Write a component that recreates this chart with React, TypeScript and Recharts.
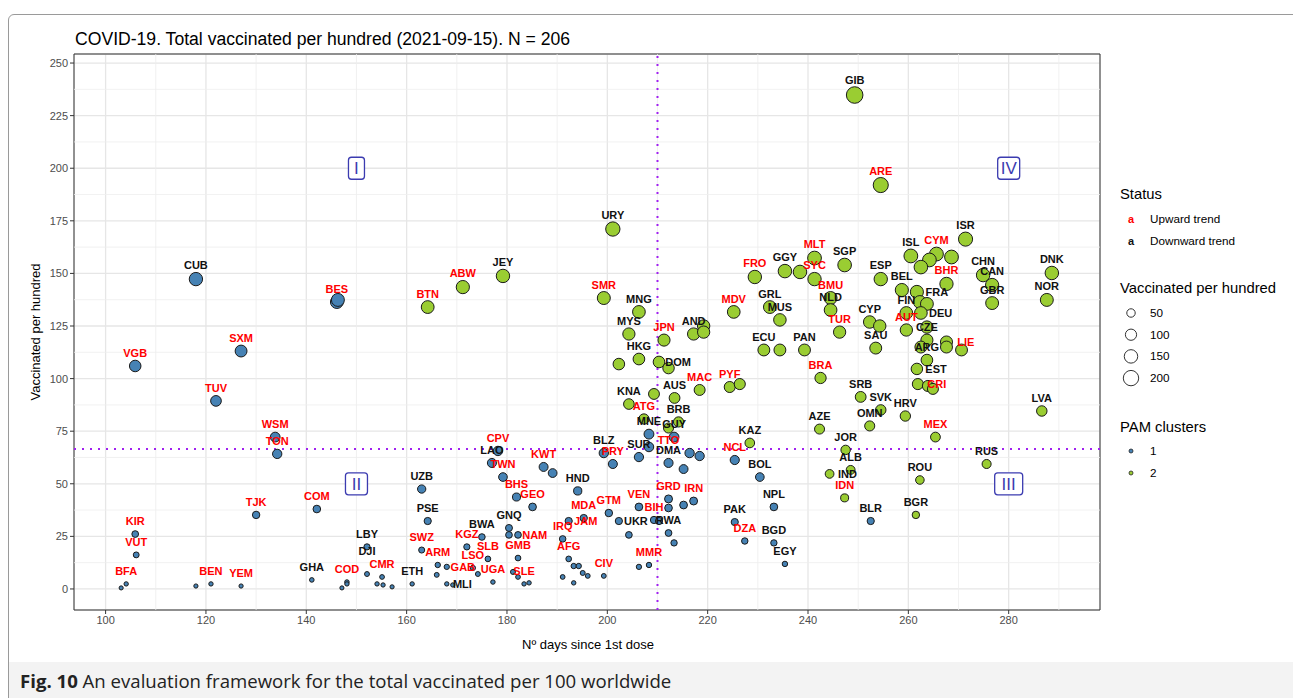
import React from 'react';
import {
  ScatterChart,
  Scatter,
  XAxis,
  YAxis,
  ZAxis,
  CartesianGrid,
  ReferenceLine,
  ReferenceDot,
  ReferenceArea,
} from 'recharts';

// ---------- data: PAM cluster 1 ----------
const c1Codes = ['CUB','BES','','VGB','SXM','TUV','WSM','TON','TJK','COM','KIR','VUT','BFA','','','BEN','YEM','GHA','COD','','','DJI','CMR','','','','LBY','UZB','PSE','SWZ','ARM','GAB','','ETH','MLI','','KGZ','BWA','LSO','','SLB','UGA','GNQ','','NAM','GMB','','','SLE','','CPV','LAO','TWN','BHS','GEO','KWT','','HND','MDA','JAM','IRQ','AFG','','','','','CIV','','','BLZ','PRY','SUR','MNE','','GUY','DMA','','','','NCL','BOL','GRD','','IRN','','VEN','BIH','','GTM','UKR','','RWA','','PAK','DZA','NPL','BGD','EGY','MMR','','BLR'];
const c1Days = [118.0,146.1,146.3,105.9,127.0,122.0,133.8,134.2,130.0,142.1,105.9,106.1,104.1,103.1,118.0,121.0,127.0,141.1,148.1,148.1,147.1,152.1,155.1,154.1,155.3,157.1,152.1,163.0,164.2,163.0,166.2,168.0,166.0,161.1,168.0,169.2,172.0,175.0,173.2,174.2,176.2,177.2,180.4,180.4,182.2,182.2,181.2,182.2,183.4,184.4,178.2,177.0,179.2,181.9,185.1,187.3,189.1,194.1,195.3,192.3,191.1,192.3,193.3,194.3,191.1,193.3,199.3,195.1,196.1,199.3,201.1,206.3,208.3,208.3,213.3,212.2,215.2,216.4,218.4,225.4,230.4,212.2,212.2,217.2,215.2,206.3,209.3,210.3,200.3,202.3,204.3,212.2,213.3,225.4,227.4,233.2,233.2,235.4,208.3,206.3,252.5];
const c1Vacc = [147.3,136.4,137.4,106.0,113.1,89.4,72.2,64.2,35.2,38.0,26.1,16.2,2.4,0.5,1.4,2.4,1.4,4.3,3.3,2.4,0.5,7.1,5.7,2.4,1.9,1.0,20.0,47.5,32.3,18.5,11.4,10.5,6.7,2.4,2.4,1.9,20.0,24.7,10.0,7.1,14.3,3.3,29.0,25.7,25.7,14.7,8.1,5.7,2.4,2.9,65.6,59.9,53.2,43.7,39.0,58.0,55.1,46.6,33.7,32.3,23.8,14.3,10.9,10.9,5.7,2.9,6.2,7.6,6.2,64.6,59.4,62.7,73.6,67.5,72.2,59.9,57.0,64.6,63.2,61.3,53.2,42.8,38.5,41.8,39.9,39.0,32.8,32.3,36.1,32.3,25.7,26.6,21.9,31.8,22.8,39.0,21.9,11.9,11.4,10.5,32.3];
const c1Up = [0,1,1,1,1,1,1,1,1,1,1,1,1,1,1,1,1,0,1,1,1,0,1,1,1,1,0,0,0,1,1,1,1,0,0,0,1,0,1,1,1,1,0,0,1,1,1,1,1,1,1,0,1,1,1,1,1,0,1,1,1,1,1,1,1,1,1,1,1,0,1,0,0,0,0,0,0,0,0,1,0,1,1,1,1,1,1,1,1,0,0,0,0,0,1,0,0,0,1,1,0];

// ---------- data: PAM cluster 2 ----------
const c2Codes = ['GIB','ARE','URY','ISR','BTN','ABW','JEY','SMR','MNG','MYS','JPN','AND','','','HKG','','DOM','','MAC','PYF','','AUS','','KNA','ATG','BRB','TTO','KAZ','MDV','GRL','MUS','ECU','','PAN','BRA','AZE','FRO','GGY','','MLT','SYC','SGP','BMU','NLD','TUR','ESP','CYP','','SAU','ISL','CYM','','','','BHR','BEL','FRA','','','FIN','DEU','AUT','','CZE','','LIE','','','ARG','EST','CRI','','','SRB','SVK','OMN','HRV','MEX','LVA','RUS','ROU','BGR','JOR','ALB','IND','IDN','CHN','CAN','GBR','DNK','NOR'];
const c2Days = [249.3,254.5,201.1,271.4,164.2,171.2,179.2,199.3,206.3,204.3,211.3,217.2,219.2,219.2,206.3,202.3,210.3,212.2,218.4,224.4,226.4,213.4,209.3,204.3,207.3,214.2,212.2,228.4,225.2,232.4,234.4,231.2,234.4,239.3,242.5,242.3,229.4,235.4,238.4,241.3,241.3,247.3,244.5,244.5,246.3,254.5,252.3,254.3,253.5,260.5,265.6,264.2,262.5,268.6,267.6,258.7,261.7,262.3,263.7,259.6,262.5,259.6,263.7,263.7,262.5,267.6,267.6,270.6,263.7,261.7,261.9,263.9,264.9,250.5,254.5,252.3,259.4,265.4,286.6,275.6,262.3,261.5,247.5,248.5,244.3,247.3,274.9,276.7,276.7,288.6,287.6];
const c2Vacc = [234.8,192.0,171.1,166.3,134.0,143.5,148.8,138.3,131.7,121.2,118.3,121.2,125.0,122.1,109.3,106.9,107.9,105.0,94.6,96.0,97.4,90.8,92.7,87.9,80.8,79.4,76.5,69.4,131.7,134.0,127.9,113.6,113.6,113.6,100.3,76.0,148.3,151.1,150.7,157.3,147.3,154.0,138.3,132.6,122.1,147.3,126.9,125.0,114.5,158.3,159.2,156.4,153.0,157.8,145.0,142.1,141.2,136.4,135.5,131.2,131.2,123.1,124.5,118.3,115.0,117.4,115.0,113.6,108.8,104.6,97.4,96.5,95.1,91.3,85.1,77.5,82.2,72.2,84.6,59.4,51.8,35.2,66.1,56.6,54.7,43.3,149.2,144.5,135.9,150.2,137.4];
const c2Up = [0,1,0,0,1,1,0,1,0,0,1,0,0,0,0,0,0,0,1,1,1,0,0,0,1,0,1,0,1,0,0,0,0,0,1,0,1,0,0,1,1,0,1,0,1,0,0,0,0,0,1,1,1,1,1,0,0,0,0,0,0,1,1,0,0,1,1,1,0,0,1,1,1,0,0,0,0,1,0,0,0,0,0,0,0,1,0,0,0,0,0];

// ---------- axes ----------
const xTicks = [100, 120, 140, 160, 180, 200, 220, 240, 260, 280];
const yTicks = [0, 25, 50, 75, 100, 125, 150, 175, 200, 225, 250];
const xMinor = [110, 130, 150, 170, 190, 210, 230, 250, 270, 290];
const yMinor = [12.5, 37.5, 62.5, 87.5, 112.5, 137.5, 162.5, 187.5, 212.5, 237.5];
const xDomain = [93.7, 298.2];
const yDomain = [-10, 254.3];
const hLineY = 66.5;
const vLineX = 210;

// quadrant tags
const quadLabels = ['I', 'II', 'III', 'IV'];
const quadX = [150, 150, 280, 280];
const quadY = [200, 50, 50, 200];

// legend
const legendSizes = [50, 100, 150, 200];

const BLUE = '#4682B4';
const GREEN = '#9ACD32';
const FONT = '"Liberation Sans", Arial, Helvetica, sans-serif';

const build = (codes: string[], days: number[], vals: number[], up: number[]) =>
  codes.map((code, i) => ({ code, x: days[i], y: vals[i], up: up[i] }));

const cluster1 = build(c1Codes, c1Days, c1Vacc, c1Up);
const cluster2 = build(c2Codes, c2Days, c2Vacc, c2Up);
const allPoints = [...cluster1, ...cluster2];
const labelled = allPoints.filter((p) => p.code);

const Dot = (props: any) => {
  const { cx, cy, size, fill } = props;
  if (cx == null || cy == null) return null;
  const r = Math.sqrt((size ?? 60) / Math.PI);
  return <circle cx={cx} cy={cy} r={r} fill={fill} stroke="#1a1a1a" strokeWidth={1} />;
};

// simple greedy label repel (like ggrepel): first free spot around the point
type Box = { x1: number; y1: number; x2: number; y2: number };
const placed: Box[] = [];
const hits = (b: Box) => placed.some((p) => b.x1 < p.x2 && b.x2 > p.x1 && b.y1 < p.y2 && b.y2 > p.y1);

const Label = (props: any) => {
  const { cx, cy, payload, size, index } = props;
  if (index === 0 || (payload && payload.code === labelled[0].code && payload.x === labelled[0].x)) placed.length = 0;
  if (cx == null || cy == null || !payload || !payload.code) return null;
  const r = Math.sqrt((size ?? 60) / Math.PI);
  const up = Math.max(r + 3, 9);
  const w = payload.code.length * 7.6;
  const h = 9;
  const cands: [number, number][] = [
    [0, -up],
    [0, -up - 10],
    [w / 2 + r + 2, 4],
    [-(w / 2 + r + 2), 4],
    [0, r + 11],
    [w / 2 + r, -up + 1],
    [-(w / 2 + r), -up + 1],
    [w / 2 + r, r + 9],
    [-(w / 2 + r), r + 9],
    [0, -up - 20],
    [0, r + 21],
  ];
  let best = cands[0];
  for (const c of cands) {
    const b = { x1: cx + c[0] - w / 2, x2: cx + c[0] + w / 2, y1: cy + c[1] - h, y2: cy + c[1] };
    if (!hits(b)) {
      best = c;
      break;
    }
  }
  placed.push({ x1: cx + best[0] - w / 2, x2: cx + best[0] + w / 2, y1: cy + best[1] - h, y2: cy + best[1] });
  return (
    <text
      x={cx + best[0]}
      y={cy + best[1]}
      textAnchor="middle"
      fontFamily={FONT}
      fontWeight="bold"
      fontSize={11}
      fill={payload.up ? '#FF0000' : '#111111'}
    >
      {payload.code}
    </text>
  );
};

const QuadTag = (label: string) => (props: any) => {
  const { cx, cy } = props;
  const w = 10 + label.length * 6;
  return (
    <g>
      <rect x={cx - w / 2} y={cy - 11} width={w} height={22} rx={3} ry={3} fill="#fff" stroke="#3b3bb0" strokeWidth={1.3} />
      <text x={cx} y={cy + 6} textAnchor="middle" fontFamily={FONT} fontSize={17} fill="#3b3bb0">
        {label}
      </text>
    </g>
  );
};

export default function App() {
  return (
    <div style={{ position: 'absolute', left: 0, top: 0, width: 1293, height: 698, background: '#fff', overflow: 'hidden', fontFamily: FONT }}>
      <ScatterChart width={1293} height={698} margin={{ top: 54, right: 193, bottom: 58, left: 19 }}>
        <CartesianGrid stroke="#e6e6e6" strokeWidth={1.3} />
        {xMinor.map((v) => (
          <ReferenceLine key={'vx' + v} x={v} stroke="#ededed" strokeWidth={0.8} />
        ))}
        {yMinor.map((v) => (
          <ReferenceLine key={'hy' + v} y={v} stroke="#ededed" strokeWidth={0.8} />
        ))}
        <XAxis
          type="number"
          dataKey="x"
          domain={xDomain}
          ticks={xTicks}
          interval={0}
          allowDataOverflow
          height={30}
          axisLine={false}
          tickSize={4}
          tickLine={{ stroke: '#333' }}
          tick={{ fill: '#4d4d4d', fontSize: 11, fontFamily: FONT }}
        />
        <YAxis
          type="number"
          dataKey="y"
          domain={yDomain}
          ticks={yTicks}
          interval={0}
          allowDataOverflow
          width={55}
          axisLine={false}
          tickSize={4}
          tickLine={{ stroke: '#333' }}
          tick={{ fill: '#4d4d4d', fontSize: 11, fontFamily: FONT }}
        />
        <ZAxis type="number" dataKey="y" domain={[0, 235]} range={[13, 216]} />
        <ReferenceArea x1={xDomain[0]} x2={xDomain[1]} y1={yDomain[0]} y2={yDomain[1]} fill="none" stroke="#333" strokeWidth={1} ifOverflow="visible" />
        {quadLabels.map((q, i) => (
          <ReferenceDot key={q} x={quadX[i]} y={quadY[i]} r={0} shape={QuadTag(q)} ifOverflow="visible" />
        ))}
        <Scatter data={cluster1} fill={BLUE} shape={<Dot />} isAnimationActive={false} />
        <Scatter data={cluster2} fill={GREEN} shape={<Dot />} isAnimationActive={false} />
        <ReferenceLine y={hLineY} stroke="#A020F0" strokeWidth={2} strokeDasharray="2 6" />
        <ReferenceLine x={vLineX} stroke="#A020F0" strokeWidth={2} strokeDasharray="2 6" />
        <Scatter data={labelled} fill="none" shape={<Label />} isAnimationActive={false} />
      </ScatterChart>

      {/* overlay texts and legend */}
      <svg width={1293} height={698} style={{ position: 'absolute', left: 0, top: 0, pointerEvents: 'none' }}>
        <text x={75} y={45} fontFamily={FONT} fontSize={17.6} fill="#000">
          COVID-19. Total vaccinated per hundred (2021-09-15). N = 206
        </text>
        <text x={588} y={649} textAnchor="middle" fontFamily={FONT} fontSize={13} fill="#000">
          Nº days since 1st dose
        </text>
        <text x={0} y={0} transform="translate(40,332) rotate(-90)" textAnchor="middle" fontFamily={FONT} fontSize={13} fill="#000">
          Vaccinated per hundred
        </text>

        <text x={1120} y={199} fontFamily={FONT} fontSize={14.8} fill="#000">Status</text>
        <text x={1131} y={223} textAnchor="middle" fontFamily={FONT} fontWeight="bold" fontSize={11} fill="#FF0000">a</text>
        <text x={1150} y={223} fontFamily={FONT} fontSize={11.7} fill="#000">Upward trend</text>
        <text x={1131} y={245} textAnchor="middle" fontFamily={FONT} fontWeight="bold" fontSize={11} fill="#111">a</text>
        <text x={1150} y={245} fontFamily={FONT} fontSize={11.7} fill="#000">Downward trend</text>

        <text x={1120} y={293} fontFamily={FONT} fontSize={14.8} fill="#000">Vaccinated per hundred</text>
        {legendSizes.map((s, i) => (
          <g key={s}>
            <circle cx={1131} cy={313 + i * 21.7} r={Math.sqrt((13 + (s / 235) * 203) / Math.PI)} fill="none" stroke="#333" strokeWidth={1} />
            <text x={1150} y={317 + i * 21.7} fontFamily={FONT} fontSize={11.7} fill="#000">{s}</text>
          </g>
        ))}

        <text x={1120} y={432} fontFamily={FONT} fontSize={14.8} fill="#000">PAM clusters</text>
        <circle cx={1131} cy={451} r={2} fill={BLUE} stroke="#222" strokeWidth={0.8} />
        <text x={1150} y={455} fontFamily={FONT} fontSize={11.7} fill="#000">1</text>
        <circle cx={1131} cy={473} r={2} fill={GREEN} stroke="#222" strokeWidth={0.8} />
        <text x={1150} y={477} fontFamily={FONT} fontSize={11.7} fill="#000">2</text>
      </svg>

      {/* figure frame and caption */}
      <div style={{ position: 'absolute', left: 8, top: 14, width: 1300, height: 700, border: '1px solid #9a9a9a', borderRadius: 6, boxSizing: 'border-box', pointerEvents: 'none' }} />
      <div style={{ position: 'absolute', left: 9, top: 662, width: 1290, height: 40, background: '#f3f3f3' }} />
      <div style={{ position: 'absolute', left: 20, top: 668, fontFamily: '"Open Sans", "Noto Sans", sans-serif', fontSize: 18.6, color: '#222', whiteSpace: 'nowrap' }}>
        <b>Fig. 10</b> An evaluation framework for the total vaccinated per 100 worldwide
      </div>
    </div>
  );
}
